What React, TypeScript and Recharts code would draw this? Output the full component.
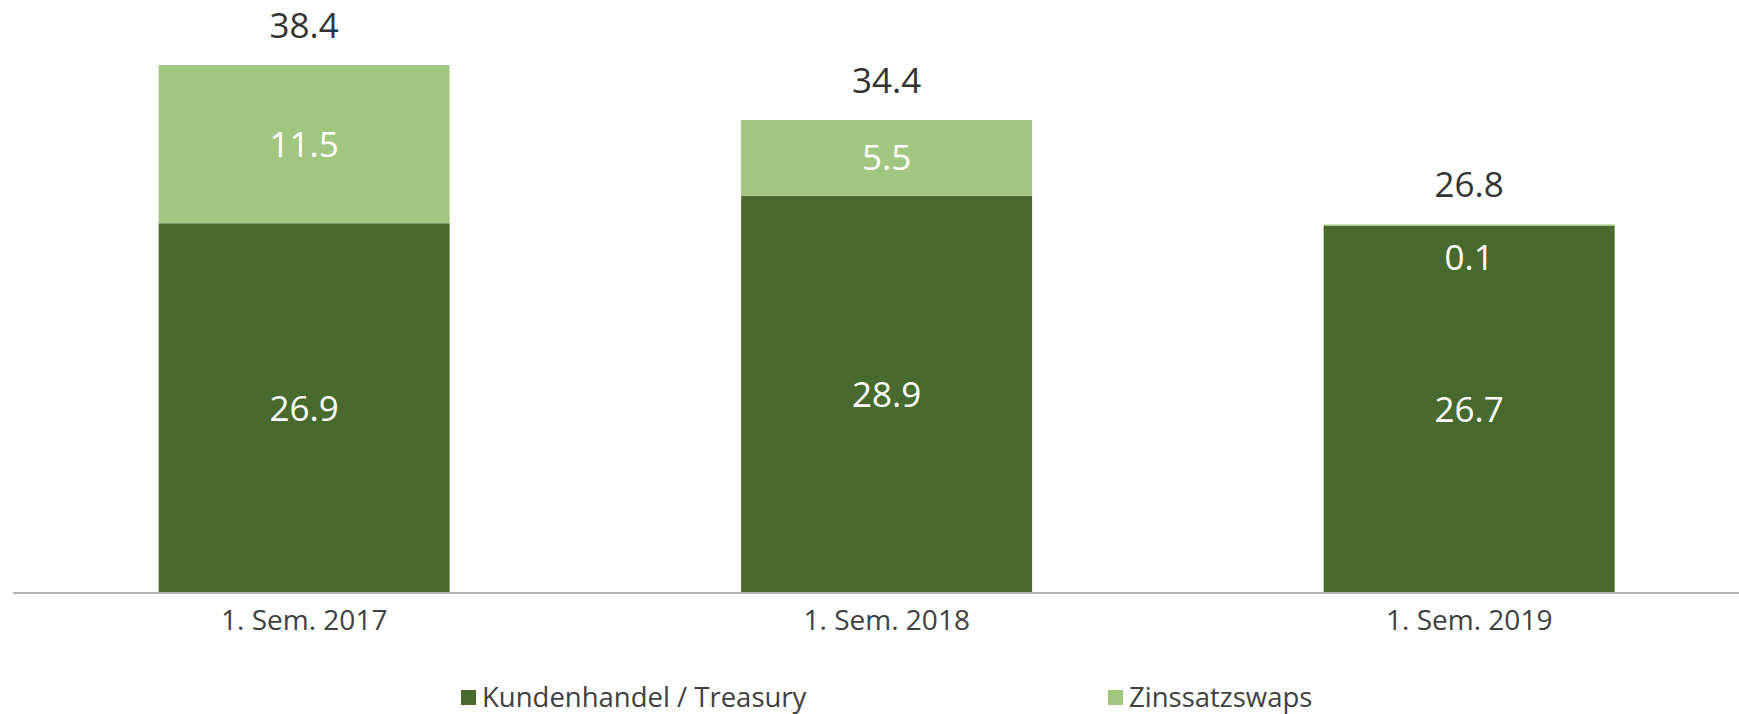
import React from 'react';
import { BarChart, Bar, XAxis, YAxis, LabelList } from 'recharts';

const categories = ['1. Sem. 2017', '1. Sem. 2018', '1. Sem. 2019'];
const kundenhandel = [26.9, 28.9, 26.7];
const zinssatzswaps = [11.5, 5.5, 0.1];
const totals = [38.4, 34.4, 26.8];

const seriesNames = ['Kundenhandel / Treasury', 'Zinssatzswaps'];
const DARK = '#486a2e';
const LIGHT = '#a1c680';
const FONT = '"Open Sans", sans-serif';

const data = categories.map((c, i) => ({
  name: c,
  kunden: kundenhandel[i],
  zins: zinssatzswaps[i],
  total: totals[i],
}));

const fmt = (v: number) => v.toFixed(1);

// value inside a segment; thin segments push the label down into the bar below
const InnerLabel = (props: any) => {
  const { x, y, width, height, value } = props;
  const cy = height < 30 ? y + 33 : y + height / 2;
  return (
    <text x={x + width / 2} y={cy + 12.5} textAnchor="middle" fill="#ffffff" fontSize={35} fontFamily={FONT}>
      {fmt(Number(value))}
    </text>
  );
};

const TotalLabel = (props: any) => {
  const { x, y, width, index } = props;
  return (
    <text x={x + width / 2} y={y - 27.5} textAnchor="middle" fill="#333333" fontSize={35} fontFamily={FONT}>
      {fmt(totals[index])}
    </text>
  );
};

const Tick = (props: any) => {
  const { x, y, payload } = props;
  return (
    <text x={x} y={y + 37} textAnchor="middle" fill="#404040" fontSize={28} fontFamily={FONT}>
      {payload.value}
    </text>
  );
};

export default function App() {
  return (
    <div style={{ position: 'absolute', left: 0, top: 0, width: 1739, height: 714, overflow: 'hidden', background: '#fff' }}>
      <BarChart
        width={1780}
        height={714}
        data={data}
        margin={{ top: 43, right: 19.5, left: 13, bottom: 61 }}
        barCategoryGap="25%"
      >
        <XAxis
          dataKey="name"
          height={60}
          tickLine={false}
          tickSize={0}
          tickMargin={0}
          axisLine={{ stroke: '#b4b4b4', strokeWidth: 2 }}
          tick={<Tick />}
        />
        <YAxis hide domain={[0, 40]} />
        <Bar dataKey="kunden" stackId="a" fill={DARK} isAnimationActive={false}>
          <LabelList dataKey="kunden" content={<InnerLabel />} />
        </Bar>
        <Bar dataKey="zins" stackId="a" fill={LIGHT} isAnimationActive={false}>
          <LabelList dataKey="zins" content={<InnerLabel />} />
          <LabelList dataKey="total" content={<TotalLabel />} />
        </Bar>
      </BarChart>
      {seriesNames.map((n, i) => (
        <div
          key={n}
          style={{
            position: 'absolute',
            left: i === 0 ? 461 : 1108,
            top: 682,
            display: 'flex',
            alignItems: 'center',
            fontFamily: FONT,
            fontSize: 27.5,
            color: '#404040',
            lineHeight: '30px',
            height: 30,
            whiteSpace: 'nowrap',
          }}
        >
          <span style={{ display: 'inline-block', width: 15, height: 15, background: i === 0 ? DARK : LIGHT, marginRight: 6 }} />
          {n}
        </div>
      ))}
    </div>
  );
}
